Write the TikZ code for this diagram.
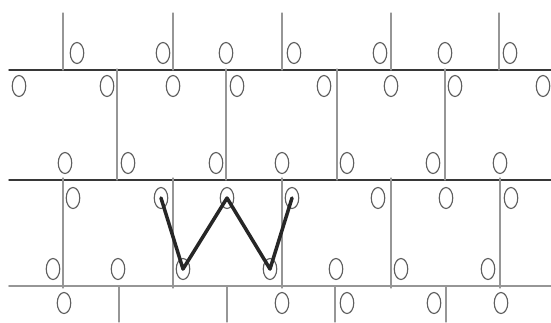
\documentclass[tikz,border=0pt]{standalone}
\usetikzlibrary{shapes.geometric}
\begin{document}
\begin{tikzpicture}[x=0.02cm, y=-0.02cm, line cap=round, line join=round]
  \definecolor{brickline}{RGB}{55,55,55}
  \definecolor{jointline}{RGB}{150,150,150}
  \definecolor{holeline}{RGB}{95,95,95}
  \tikzset{
    hole/.style={ellipse, draw=holeline, line width=0.65pt, inner sep=0pt,
      minimum width=0.27cm, minimum height=0.42cm},
    course/.style={draw=brickline, line width=0.8pt},
    joint/.style={draw=jointline, line width=0.6pt},
    zigzag/.style={draw=black!85, line width=2pt}
  }
  \useasboundingbox (0,0) rectangle (551,322);
  % courses
  \draw[course] (9,70) -- (551,70);
  \draw[course] (9,180) -- (551,180);
  \draw[joint, line width=1.1pt] (9,286) -- (551,286);
  % head joints
  \foreach \x in {63,173,282,391,499}
    \draw[joint] (\x,13) -- (\x,70);
  \foreach \x in {117,226,337,445}
    \draw[joint] (\x,69) -- (\x,180);
  \foreach \x in {63,173,282,391,500}
    \draw[joint] (\x,178) -- (\x,288);
  \foreach \x in {119,227,335,446}
    \draw[joint] (\x,286) -- (\x,322);
  % holes, row by row
  \foreach \x [count=\i] in {77,163,226,294,380,445,510}
    \node[hole] (a\i) at (\x,53) {};
  \foreach \x [count=\i] in {19,107,173,237,324,391,455,543}
    \node[hole] (b\i) at (\x,86) {};
  \foreach \x [count=\i] in {65,128,216,282,347,433,500}
    \node[hole] (c\i) at (\x,163) {};
  \foreach \x [count=\i] in {73,161,227,292,378,446,511}
    \node[hole] (d\i) at (\x,198) {};
  \foreach \x [count=\i] in {53,118,183,270,336,401,488}
    \node[hole] (e\i) at (\x,269) {};
  \foreach \x [count=\i] in {64,282,347,434,501}
    \node[hole] (f\i) at (\x,303) {};
  % the W
  \draw[zigzag] (d2.center) -- (e3.center) -- (d3.center) -- (e4.center) -- (d4.center);
\end{tikzpicture}
\end{document}
